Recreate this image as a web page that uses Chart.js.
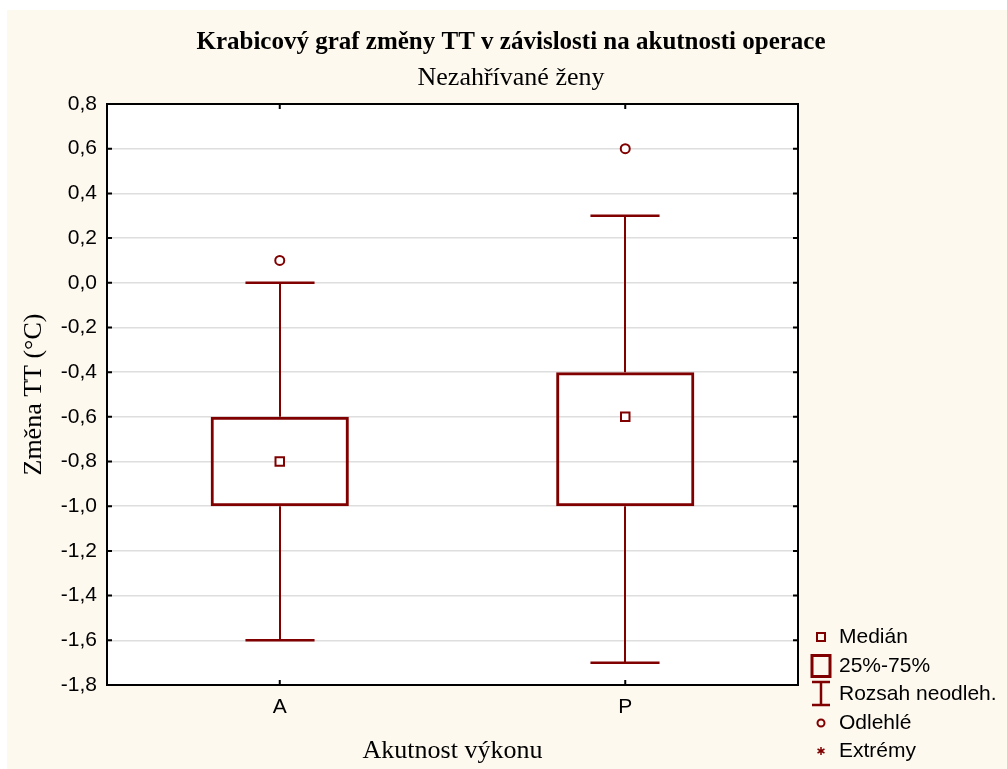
<!DOCTYPE html>
<html>
<head>
<meta charset="utf-8">
<title>Krabicový graf</title>
<script src="https://cdn.jsdelivr.net/npm/chart.js@4/dist/chart.umd.min.js"></script>
<style>
  html, body { margin: 0; padding: 0; background: #ffffff; }
  #wrap { position: absolute; left: 7px; top: 10px; width: 1000px; height: 759px; background: #fdf9ef; }
</style>
</head>
<body>
<div id="wrap"><canvas id="boxChart" width="1000" height="759"></canvas></div>
<script>
const categories = ['A', 'P'];
const lowerWhisker = [-1.6, -1.7];
const quartile1 = [-1.0, -1.0];
const medians = [-0.8, -0.6];
const quartile3 = [-0.6, -0.4];
const upperWhisker = [0.0, 0.3];
const outliers = [0.1, 0.6];
const yTicks = [0.8, 0.6, 0.4, 0.2, 0.0, -0.2, -0.4, -0.6, -0.8, -1.0, -1.2, -1.4, -1.6, -1.8];
const legendLabels = ['Medián', '25%-75%', 'Rozsah neodleh.', 'Odlehlé', 'Extrémy'];

const darkRed = '#800000';
const sansFont = '"Liberation Sans", Arial, sans-serif';
const serifFont = '"Liberation Serif", "Times New Roman", serif';

// decimal comma, no "-0,0"
function fmt(v) {
    if (Math.abs(v) < 1e-9) v = 0;
    return v.toFixed(1).replace('.', ',');
}

const boxPlotDecor = {
    id: 'boxPlotDecor',
    beforeDraw(chart) {
        const { ctx, chartArea: a } = chart;
        ctx.save();
        ctx.fillStyle = '#ffffff';
        ctx.fillRect(a.left, a.top, a.right - a.left, a.bottom - a.top);
        ctx.restore();
    },
    afterDatasetsDraw(chart) {
        // whiskers with caps half as wide as the box
        const { ctx } = chart;
        const xs = chart.scales.x, ys = chart.scales.y;
        const bars = chart.getDatasetMeta(0).data;
        ctx.save();
        ctx.strokeStyle = darkRed;
        categories.forEach((c, i) => {
            const cx = Math.round(xs.getPixelForValue(i));
            const half = bars[i].width / 4;
            [[quartile3[i], upperWhisker[i]], [quartile1[i], lowerWhisker[i]]].forEach(([from, to]) => {
                const y0 = ys.getPixelForValue(from);
                const y1 = ys.getPixelForValue(to);
                ctx.lineWidth = 2;
                ctx.beginPath();
                ctx.moveTo(cx, y0);
                ctx.lineTo(cx, y1);
                ctx.stroke();
                ctx.lineWidth = 2.5;
                ctx.beginPath();
                ctx.moveTo(cx - half, y1);
                ctx.lineTo(cx + half, y1);
                ctx.stroke();
            });
        });
        ctx.restore();
    },
    afterDraw(chart) {
        const { ctx, chartArea: a } = chart;
        const xs = chart.scales.x, ys = chart.scales.y;
        ctx.save();

        // frame and inward ticks
        ctx.strokeStyle = '#000000';
        ctx.lineWidth = 2;
        ctx.strokeRect(a.left, a.top, a.right - a.left, a.bottom - a.top);
        ctx.beginPath();
        yTicks.forEach(v => {
            const py = ys.getPixelForValue(v);
            ctx.moveTo(a.left, py); ctx.lineTo(a.left + 5, py);
            ctx.moveTo(a.right, py); ctx.lineTo(a.right - 5, py);
        });
        categories.forEach((c, i) => {
            const px = xs.getPixelForValue(i);
            ctx.moveTo(px, a.top); ctx.lineTo(px, a.top + 5);
            ctx.moveTo(px, a.bottom); ctx.lineTo(px, a.bottom - 5);
        });
        ctx.stroke();

        // legend
        const lx = 814, tx = 832;
        const rows = [627, 656, 684, 713, 741];
        ctx.strokeStyle = darkRed;
        ctx.lineWidth = 2;
        ctx.strokeRect(lx - 4, rows[0] - 4, 8, 8);
        ctx.lineWidth = 3;
        ctx.strokeRect(lx - 9, rows[1] - 10.5, 18, 21);
        ctx.lineWidth = 2.5;
        ctx.beginPath();
        ctx.moveTo(lx, rows[2] - 12); ctx.lineTo(lx, rows[2] + 11);
        ctx.moveTo(lx - 9, rows[2] - 12); ctx.lineTo(lx + 9, rows[2] - 12);
        ctx.moveTo(lx - 9, rows[2] + 11); ctx.lineTo(lx + 9, rows[2] + 11);
        ctx.stroke();
        ctx.lineWidth = 2;
        ctx.beginPath();
        ctx.arc(lx, rows[3], 3.5, 0, Math.PI * 2);
        ctx.stroke();
        ctx.lineWidth = 1.5;
        ctx.beginPath();
        [90, 30, 150].forEach(deg => {
            const r = deg * Math.PI / 180;
            ctx.moveTo(lx - 4 * Math.cos(r), rows[4] - 4 * Math.sin(r));
            ctx.lineTo(lx + 4 * Math.cos(r), rows[4] + 4 * Math.sin(r));
        });
        ctx.stroke();

        ctx.fillStyle = '#000000';
        ctx.font = '21px ' + sansFont;
        ctx.textBaseline = 'middle';
        ctx.textAlign = 'left';
        legendLabels.forEach((t, i) => ctx.fillText(t, tx, rows[i]));
        ctx.restore();
    }
};

const ctx = document.getElementById('boxChart').getContext('2d');
new Chart(ctx, {
    type: 'bar',
    data: {
        labels: categories,
        datasets: [
            {
                label: '25%-75%',
                data: categories.map((c, i) => [quartile1[i], quartile3[i]]),
                backgroundColor: 'rgba(0,0,0,0)',
                borderColor: darkRed,
                borderWidth: 3,
                borderSkipped: false,
                barPercentage: 0.4,
                categoryPercentage: 1
            },
            {
                type: 'line',
                label: 'Medián',
                data: medians,
                showLine: false,
                pointStyle: 'rect',
                pointRadius: 6,
                pointBorderWidth: 2,
                pointBackgroundColor: '#ffffff',
                pointBorderColor: darkRed
            },
            {
                type: 'line',
                label: 'Odlehlé',
                data: outliers,
                showLine: false,
                pointStyle: 'circle',
                pointRadius: 4.5,
                pointBorderWidth: 2,
                pointBackgroundColor: '#ffffff',
                pointBorderColor: darkRed
            }
        ]
    },
    options: {
        responsive: false,
        devicePixelRatio: 1,
        animation: false,
        layout: { padding: { left: 8, right: 0, top: 0, bottom: 0 } },
        plugins: {
            legend: { display: false },
            tooltip: { enabled: false },
            title: {
                display: true,
                text: 'Krabicový graf změny TT v závislosti na akutnosti operace',
                color: '#000000',
                font: { family: serifFont, size: 25, weight: 'bold' },
                padding: { top: 18, bottom: 4.4 }
            },
            subtitle: {
                display: true,
                text: 'Nezahřívané ženy',
                color: '#000000',
                font: { family: serifFont, size: 26, weight: 'normal' },
                padding: { top: 0, bottom: 10.4 }
            }
        },
        scales: {
            x: {
                grid: { display: false, drawTicks: false },
                border: { display: false },
                ticks: { color: '#000000', font: { family: sansFont, size: 21 }, padding: 10 },
                title: {
                    display: true,
                    text: 'Akutnost výkonu',
                    color: '#000000',
                    font: { family: serifFont, size: 26 },
                    padding: { top: 0, bottom: 2.4 }
                },
                afterFit(s) { s.height = 84; }
            },
            y: {
                min: -1.8,
                max: 0.8,
                afterBuildTicks(s) { s.ticks = yTicks.map(v => ({ value: v })); },
                grid: { color: '#dedede', lineWidth: 1.5, drawTicks: false },
                border: { display: false },
                ticks: {
                    color: '#000000',
                    font: { family: sansFont, size: 21 },
                    padding: 10,
                    callback: v => fmt(v)
                },
                title: {
                    display: true,
                    text: 'Změna TT (°C)',
                    color: '#000000',
                    font: { family: serifFont, size: 26 },
                    padding: { top: 4, bottom: 0 }
                },
                afterFit(s) { s.width = 92; }
            },
            // empty strip on the right that holds the legend
            side: {
                type: 'linear',
                position: 'right',
                grid: { display: false, drawTicks: false },
                border: { display: false },
                ticks: { display: false },
                afterFit(s) { s.width = 209; }
            }
        }
    },
    plugins: [boxPlotDecor]
});
</script>
</body>
</html>
